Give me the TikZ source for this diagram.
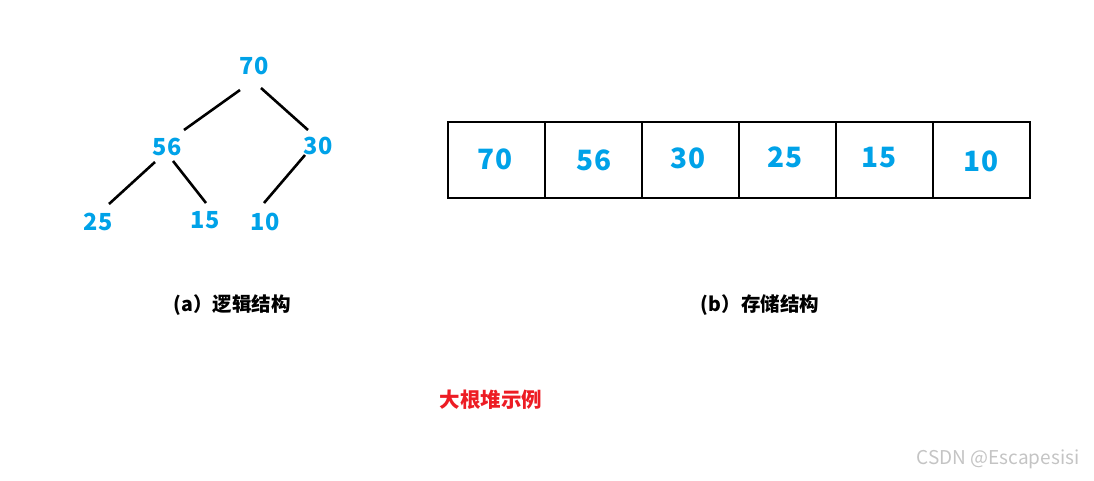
\documentclass[tikz,border=0pt]{standalone}
\usepackage{fontspec}
\setmainfont{Noto Sans CJK SC}
\definecolor{numblue}{HTML}{00A2E8}
\definecolor{titlered}{HTML}{ED1C24}
\definecolor{wmgray}{HTML}{C4C4C4}
\begin{document}
\begin{tikzpicture}[x=1pt,y=-1pt,
  treenum/.style={inner sep=0pt,text=numblue,font=\fontsize{23.5}{23.5}\selectfont\bfseries},
  cellnum/.style={inner sep=0pt,text=numblue,font=\fontsize{28}{28}\selectfont\bfseries},
  edge/.style={draw=black,line width=2.6pt},
  cell/.style={draw=black,line width=2pt,minimum width=97pt,minimum height=76pt,inner sep=0pt,anchor=north west},
  caption/.style={inner sep=0pt,font=\fontsize{19.5}{19.5}\selectfont\bfseries}]
\useasboundingbox (0,0) rectangle (1094,480);
% tree
\node[treenum] (t70) at (254,66) {70};
\node[treenum] (t56) at (167,147) {56};
\node[treenum] (t30) at (318,146) {30};
\node[treenum] (t25) at (98,222) {25};
\node[treenum] (t15) at (205,220) {15};
\node[treenum] (t10) at (265,222) {10};
\coordinate (e1a) at (240,90);  \coordinate (e1b) at (184,130);
\coordinate (e2a) at (261,88);  \coordinate (e2b) at (308,130);
\coordinate (e3a) at (155,162); \coordinate (e3b) at (109,204);
\coordinate (e4a) at (173,161); \coordinate (e4b) at (206,203);
\coordinate (e5a) at (305,155); \coordinate (e5b) at (264,203);
\draw[edge] (e1a) -- (e1b);
\draw[edge] (e2a) -- (e2b);
\draw[edge] (e3a) -- (e3b);
\draw[edge] (e4a) -- (e4b);
\draw[edge] (e5a) -- (e5b);
% array
\node[cell] (c1) at (447,121) {};
\node[cell] (c2) at (544,121) {};
\node[cell] (c3) at (641,121) {};
\node[cell] (c4) at (738,121) {};
\node[cell] (c5) at (835,121) {};
\node[cell] (c6) at (932,121) {};
\node[cellnum] (a1) at (495,159) {70};
\node[cellnum] (a2) at (594,160) {56};
\node[cellnum] (a3) at (688,158) {30};
\node[cellnum] (a4) at (785,157) {25};
\node[cellnum] (a5) at (879,158) {15};
\node[cellnum] (a6) at (981,161) {10};
% captions
\node[caption] (capa) at (232,305) {(a）逻辑结构};
\node[caption] (capb) at (760,305) {(b）存储结构};
\node[caption,text=titlered,font=\fontsize{20.5}{20.5}\selectfont\bfseries] (title) at (491,400) {大根堆示例};
\node[inner sep=0pt,text=wmgray,font=\fontsize{19}{19}\selectfont] (wm) at (998,459) {CSDN @Escapesisi};
\end{tikzpicture}
\end{document}
